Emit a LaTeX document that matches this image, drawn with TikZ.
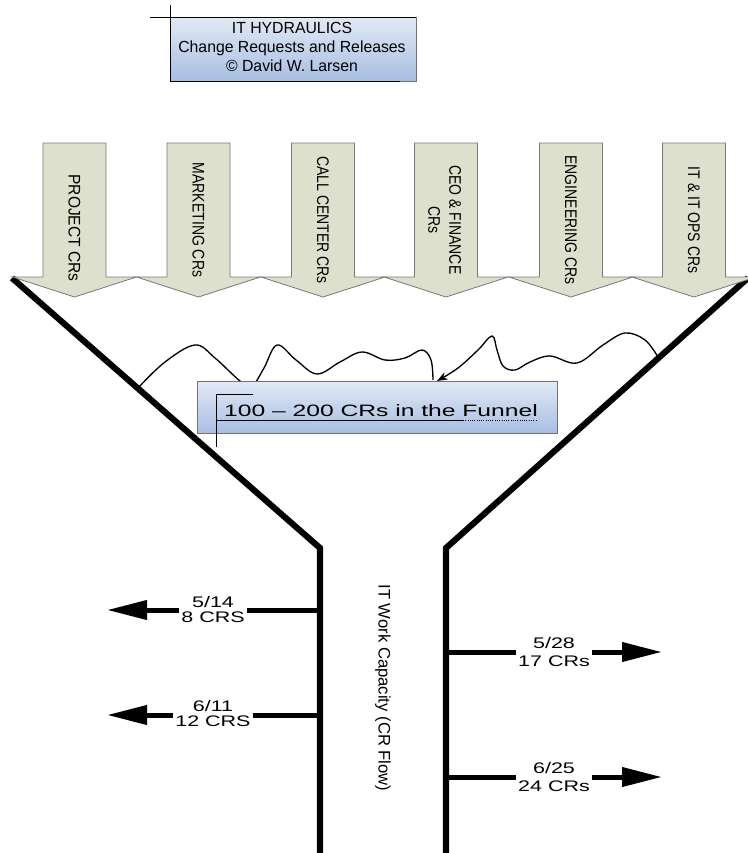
\documentclass[tikz,border=0pt]{standalone}
\usepackage{fontspec}
\setmainfont{Liberation Sans}
\usetikzlibrary{arrows.meta}
\definecolor{arrowfill}{RGB}{220,224,204}
\definecolor{arrowedge}{RGB}{120,120,120}
\definecolor{boxtop}{RGB}{226,233,245}
\definecolor{boxbot}{RGB}{168,190,226}
\begin{document}
\begin{tikzpicture}[x=0.75pt,y=-0.75pt,
  funnelline/.style={line width=4.6pt, line join=miter},
  outarrow/.style={line width=3.75pt, -{Triangle[length=30pt,width=14pt]}},
  crarrow/.style={fill=arrowfill, draw=arrowedge, line width=0.6pt},
  crtext/.style={rotate=-90, font=\fontsize{10.5}{14}\selectfont, align=center, inner sep=0pt},
  bluebox/.style={draw=black!55, line width=0.6pt, top color=boxtop, bottom color=boxbot, inner sep=0pt},
  thin/.style={line width=0.7pt},
  rellabel/.style={fill=white, inner xsep=2pt, inner ysep=0pt, align=center},
  wave/.style={line width=1pt}
]
\useasboundingbox (0,0) rectangle (748,853);

% title
\node[bluebox, minimum width=184.5pt, minimum height=48pt] (title) at (293,49) {};
\draw[thin] (150,17) -- (416,17);
\draw[thin] (170,5) -- (170,81) -- (400,81);
\node[anchor=base, inner sep=0pt, font=\fontsize{11.5}{14}\selectfont] (t1) at (292,33) {\scalebox{1.03}[1.05]{IT HYDRAULICS}};
\node[anchor=base, inner sep=0pt, font=\fontsize{11.5}{14}\selectfont] (t2) at (292,52) {\scalebox{1.03}[1.05]{Change Requests and Releases}};
\node[anchor=base, inner sep=0pt, font=\fontsize{11.5}{14}\selectfont] (t3) at (292,71) {\scalebox{1.03}[1.05]{© David W. Larsen}};

% funnel
\coordinate (lt) at (12,278);
\coordinate (lm) at (320,548);
\coordinate (lb) at (320,853);
\coordinate (rt) at (748,278);
\coordinate (rm) at (446,548);
\coordinate (rb) at (446,853);
\draw[funnelline] (lt) -- (lm) -- (lb);
\draw[funnelline] (rt) -- (rm) -- (rb);

% top CR arrows
\foreach \c/\n in {74.5/a1,198.5/a2,323/a3,446/a4,571/a5,694/a6}{
  \draw[crarrow] (\c-31.5,143) -- (\c+31.5,143) -- (\c+31.5,277) -- (\c+62,277)
     -- (\c,297) -- (\c-62,277) -- (\c-31.5,277) -- cycle;
  \coordinate (\n) at (\c,220);
}
\node[crtext] (x1) at ([yshift=-6]a1) {\scalebox{1.11}[1.2]{PROJECT CRs}};
\node[crtext] (x2) at (a2) {\scalebox{1}[1.2]{MARKETING CRs}};
\node[crtext] (x3) at (a3) {\scalebox{1}[1.2]{CALL CENTER CRs}};
\node[crtext] (x4) at ([xshift=-2]a4) {\scalebox{1}[1.2]{\begin{tabular}{@{}c@{}}CEO \& FINANCE\\[-1pt]CRs\end{tabular}}};
\node[crtext] (x5) at (a5) {\scalebox{1}[1.2]{ENGINEERING CRs}};
\node[crtext] (x6) at (a6) {\scalebox{1}[1.2]{IT \& IT OPS CRs}};

% wavy lines
\coordinate (wl) at (138,388);
\coordinate (wr) at (658,357);
\coordinate (wtip) at (437,381);
\draw[wave] plot[smooth, tension=0.6] coordinates {(wl) (165,362) (195,345) (215,358) (240,381) (252,386) (264,368) (277,345) (296,360) (317,374) (340,362) (362,352) (385,360) (405,358) (422,350) (431,360) (433,380)};
\draw[wave, -{Stealth[length=8pt,width=6pt]}] plot[smooth, tension=0.6] coordinates {(wr) (645,340) (625,333) (603,345) (577,363) (550,356) (530,362) (515,370) (503,366) (497,350) (492,336) (478,350) (458,368) (wtip)};

% funnel box
\node[bluebox, minimum width=270pt, minimum height=39pt] (fbox) at (377,407) {};
\draw[thin] (216,447) -- (216,394) -- (253,394);
\draw[thin] (216,420) -- (463,420);
\draw[thin, densely dotted] (463,420) -- (537,420);
\node[anchor=base, inner sep=0pt, font=\fontsize{12}{14}\selectfont] (ftext) at (381,416) {\scalebox{1.54}[1.03]{100 – 200 CRs in the Funnel}};

% capacity text
\node[rotate=-90, inner sep=0pt, font=\fontsize{12.5}{15}\selectfont] (cap) at (383,688) {IT Work Capacity (CR Flow)};

% release arrows
\coordinate (l1s) at (320,610); \coordinate (l1e) at (107,610);
\coordinate (l2s) at (320,715); \coordinate (l2e) at (107,715);
\coordinate (r1s) at (446,652); \coordinate (r1e) at (662,652);
\coordinate (r2s) at (446,777); \coordinate (r2e) at (662,777);
\draw[outarrow] (l1s) -- (l1e);
\draw[outarrow] (l2s) -- (l2e);
\draw[outarrow] (r1s) -- (r1e);
\draw[outarrow] (r2s) -- (r2e);
\node[rellabel, font=\fontsize{11.5}{11.25}\selectfont] (L1) at (213,610) {\scalebox{1.4}[1]{5/14}\\\scalebox{1.4}[1]{8 CRS}};
\node[rellabel, font=\fontsize{11.5}{11.25}\selectfont] (L2) at (213,714) {\scalebox{1.4}[1]{6/11}\\\scalebox{1.4}[1]{12 CRS}};
\node[rellabel, font=\fontsize{11.5}{13.5}\selectfont] (R1) at (554,652) {\scalebox{1.4}[1]{5/28}\\\scalebox{1.4}[1]{17 CRs}};
\node[rellabel, font=\fontsize{11.5}{13.5}\selectfont] (R2) at (554,777) {\scalebox{1.4}[1]{6/25}\\\scalebox{1.4}[1]{24 CRs}};
\end{tikzpicture}
\end{document}
